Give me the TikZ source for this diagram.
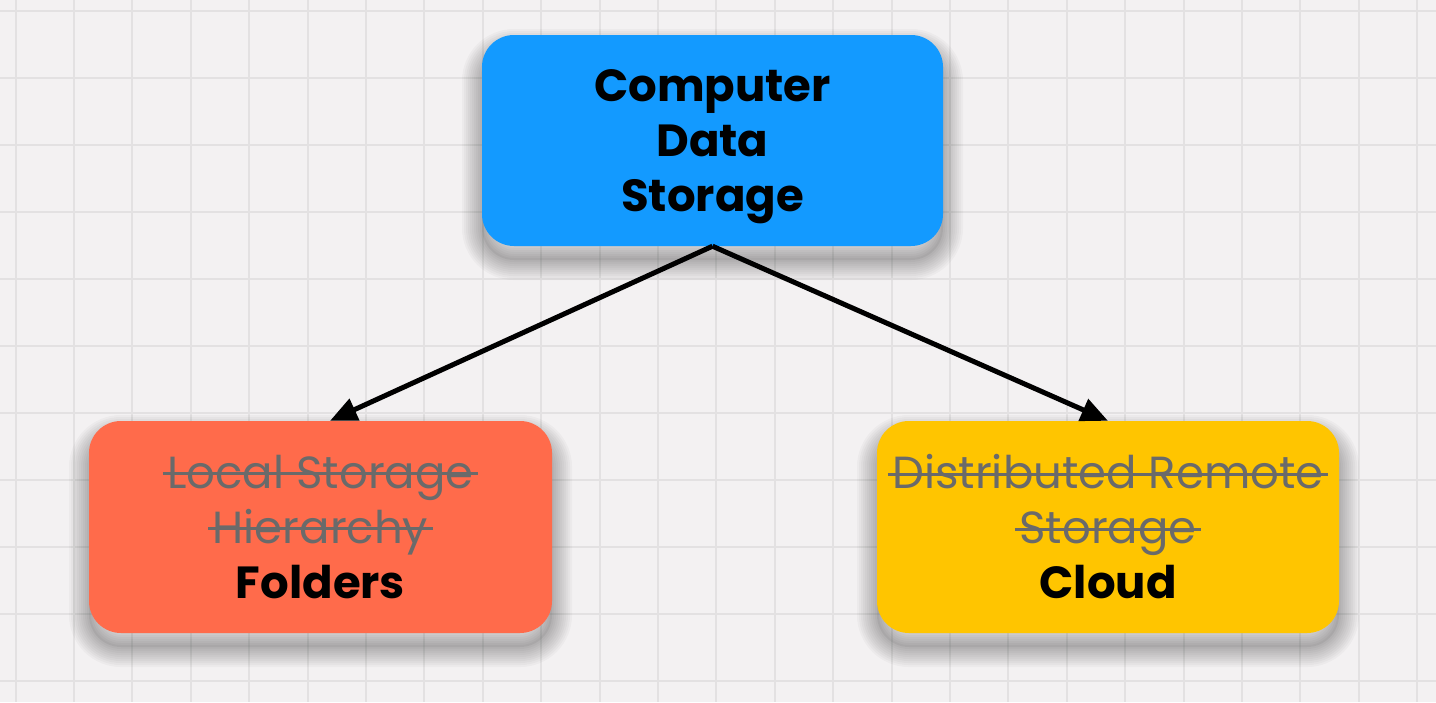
\documentclass[tikz,border=0pt]{standalone}
\usepackage{fontspec}
\setmainfont{Poppins}
\usetikzlibrary{arrows.meta}
\definecolor{bgc}{HTML}{F3F1F2}
\definecolor{gridc}{HTML}{E3E1E2}
\definecolor{bluec}{HTML}{139AFF}
\definecolor{redc}{HTML}{FF6B4B}
\definecolor{yellowc}{HTML}{FFC500}
\definecolor{strikec}{HTML}{6A6A6A}
\newsavebox\strkbox
\newcommand\strk[1]{\sbox\strkbox{#1}\makebox[0pt][l]{\kern-0.1em\raisebox{0.29em}{\rule{\dimexpr\wd\strkbox+0.2em\relax}{0.066em}}}\usebox\strkbox}
\tikzset{
  gridline/.style={draw=gridc, line width=2pt},
  sh/.style={preaction={draw=black, line width=#1, draw opacity=0.028, transform canvas={yshift=-14pt}}},
  card/.style={rounded corners=32pt, minimum width=462pt, minimum height=211pt, inner sep=0pt,
    sh=40pt, sh=36pt, sh=32pt, sh=28pt, sh=24pt, sh=20pt, sh=16pt, sh=12pt, sh=8pt, sh=4pt,
    preaction={fill=black, fill opacity=0.05, transform canvas={yshift=-14pt}}},
  conn/.style={draw=black, line width=5pt, -{Triangle[length=27pt,width=23pt]}},
  textblock/.style={align=center, inner sep=0pt, font=\fontsize{45}{55}\selectfont}
}
\begin{document}
\begin{tikzpicture}[x=1pt,y=-1pt]
\useasboundingbox (0,0) rectangle (1436,702);
\fill[bgc] (0,0) rectangle (1436,702);
\foreach \k in {0,...,24} \draw[gridline] ({15.5+58.4*\k},0) -- ({15.5+58.4*\k},702);
\foreach \k in {0,...,10} \draw[gridline] (0,{11+67*\k}) -- (1436,{11+67*\k});

\node[card, fill=bluec, minimum width=461pt] (top) at (712.5,140.5) {};
\node[card, fill=redc, minimum width=463pt, minimum height=212pt] (left) at (320.5,527) {};
\node[card, fill=yellowc, minimum height=212pt] (right) at (1108,527) {};

\node[textblock, font=\fontsize{45}{55}\selectfont\bfseries] (toptext) at ([yshift=-6pt]top.center) {Computer\\Data\\Storage};
\node[textblock] (lefttext) at (left.center)
  {{\color{strikec}\strk{Local Storage}}\\{\color{strikec}\strk{Hierarchy}}\\\textbf{Folders}};
\node[textblock] (righttext) at (right.center)
  {{\color{strikec}\strk{Distributed Remote}}\\{\color{strikec}\strk{Storage}}\\\textbf{Cloud}};

\draw[conn] (top.south) -- ([xshift=9.5pt]left.north);
\draw[conn] (top.south) -- (right.north);
\end{tikzpicture}
\end{document}
